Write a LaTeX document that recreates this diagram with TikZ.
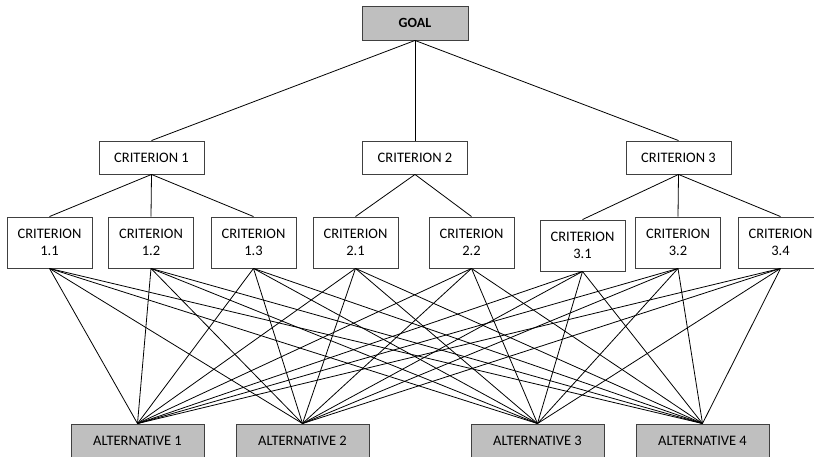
\documentclass[tikz,border=0pt]{standalone}
\usepackage{fontspec}
\setmainfont{Carlito}
\begin{document}
\begin{tikzpicture}[x=1pt,y=-1pt,
  box/.style={draw=black!75, line width=0.9pt, inner sep=0pt, align=center,
    font=\fontsize{14.5}{17.5}\selectfont},
  topbox/.style={box, fill=black!25, minimum width=106pt, minimum height=34pt,
    font=\fontsize{14}{17}\selectfont\bfseries},
  critbox/.style={box, fill=white, minimum width=105pt, minimum height=33pt},
  subbox/.style={box, fill=white, minimum width=85pt, minimum height=51pt},
  altbox/.style={box, fill=black!25, minimum width=133pt, minimum height=34pt},
  link/.style={draw=black, line width=0.8pt}]
\useasboundingbox (0,0) rectangle (814,457);

% goal
\node[topbox] (goal) at (415,23) {GOAL};

% main criteria
\node[critbox] (c1) at (151.5,157.5) {CRITERION 1};
\node[critbox] (c2) at (415,157.5) {CRITERION 2};
\node[critbox] (c3) at (678.5,157.5) {CRITERION 3};

% sub-criteria
\node[subbox] (s11) at (49.5,242.5) {CRITERION\\1.1};
\node[subbox] (s12) at (151,242.5) {CRITERION\\1.2};
\node[subbox] (s13) at (253.5,242.5) {CRITERION\\1.3};
\node[subbox] (s21) at (355.5,242.5) {CRITERION\\2.1};
\node[subbox] (s22) at (471.5,242.5) {CRITERION\\2.2};
\node[subbox] (s31) at (582.5,245.5) {CRITERION\\3.1};
\node[subbox] (s32) at (678,242.5) {CRITERION\\3.2};
\node[subbox] (s34) at (780.5,242.5) {CRITERION\\3.4};

% alternatives
\node[altbox] (a1) at (137.5,441) {ALTERNATIVE 1};
\node[altbox] (a2) at (302.5,441) {ALTERNATIVE 2};
\node[altbox] (a3) at (537.5,441) {ALTERNATIVE 3};
\node[altbox] (a4) at (702.5,441) {ALTERNATIVE 4};

% hierarchy links
\foreach \c in {c1,c2,c3} \draw[link] (goal.south) -- (\c.north);
\foreach \s in {s11,s12,s13} \draw[link] (c1.south) -- (\s.north);
\foreach \s in {s21,s22} \draw[link] (c2.south) -- (\s.north);
\foreach \s in {s31,s32,s34} \draw[link] (c3.south) -- (\s.north);

% every sub-criterion to every alternative
\foreach \s in {s11,s12,s13,s21,s22,s31,s32,s34}
  \foreach \a in {a1,a2,a3,a4}
    \draw[link] (\s.south) -- (\a.north);
\end{tikzpicture}
\end{document}
